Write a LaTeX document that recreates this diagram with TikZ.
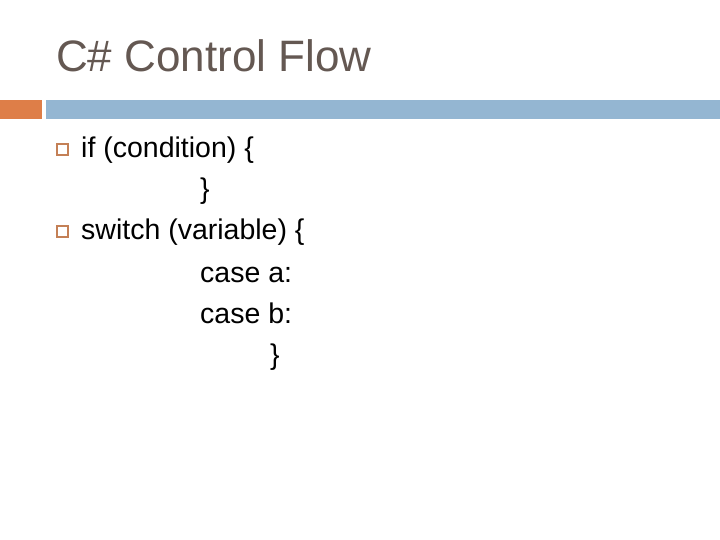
\documentclass[tikz,border=0pt]{standalone}
\usepackage{fontspec}
\setmainfont{Liberation Sans}
\definecolor{titlegray}{RGB}{100,88,82}
\definecolor{barorange}{RGB}{222,126,72}
\definecolor{barblue}{RGB}{148,182,210}
\definecolor{bulletbrown}{RGB}{196,128,86}
\tikzset{
  codeline/.style={anchor=base west,inner sep=0pt,font=\fontsize{28.5}{32}\selectfont},
  bulletbox/.style={draw=bulletbrown,line width=1.3pt}
}
\begin{document}
\begin{tikzpicture}[x=1pt,y=-1pt]
  \useasboundingbox[fill=white] (0,0) rectangle (720,540);
  \node[anchor=base west,inner sep=0pt,text=titlegray,font=\fontsize{44}{50}\selectfont] (title) at (56,72) {C\# Control Flow};
  \fill[barorange] (0,100) rectangle (42,119);
  \fill[barblue] (46,100) rectangle (720,119);
  \draw[bulletbox] (57,144) rectangle (68,155);
  \draw[bulletbox] (57,226) rectangle (68,237);
  \node[codeline] (ifline) at (81,158) {if (condition) \{};
  \node[codeline] (ifclose) at (200,199) {\}};
  \node[codeline] (switchline) at (81,240) {switch (variable) \{};
  \node[codeline] (casea) at (200,282) {case a:};
  \node[codeline] (caseb) at (200,323) {case b:};
  \node[codeline] (switchclose) at (270,364) {\}};
\end{tikzpicture}
\end{document}
